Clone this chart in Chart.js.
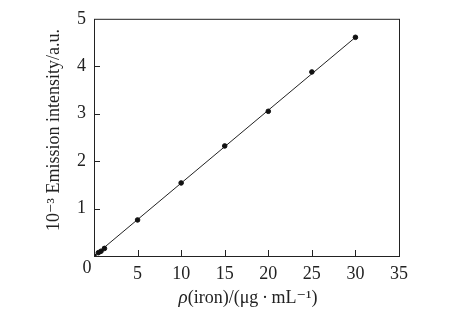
<!DOCTYPE html>
<html lang="en">
<head>
    <meta charset="UTF-8">
    <script src="https://cdn.jsdelivr.net/npm/chart.js@4.4.1/dist/chart.umd.min.js"></script>
    <title>Emission intensity vs iron</title>
    <style>
        html, body {
            margin: 0;
            padding: 0;
            background: #fff;
        }
        #chart-container {
            width: 461px;
            height: 320px;
        }
    </style>
</head>
<body>
    <div id="chart-container">
        <canvas id="ironChart" width="461" height="320"></canvas>
    </div>
    <script>
        // concentration of iron (ug/mL) and emission intensity (x10^3 a.u.)
        const ironConc = [0, 0.5, 0.8, 1.2, 5, 10, 15, 20, 25, 30];
        const emission = [0, 0.07, 0.1, 0.16, 0.76, 1.54, 2.32, 3.05, 3.88, 4.61];
        // calibration line ends
        const fitX = [0, 30];
        const fitY = [0, 4.61];
        const xTicks = [0, 5, 10, 15, 20, 25, 30, 35];
        const yTicks = [0, 1, 2, 3, 4, 5];

        const serif = "'Liberation Serif', 'DejaVu Serif', serif";

        // inward ticks, frame, shared "0" and the axis titles
        const frameAndTicks = {
            id: 'frameAndTicks',
            afterDatasetsDraw(chart) {
                const ctx = chart.ctx;
                const area = chart.chartArea;
                const xs = chart.scales.x, ys = chart.scales.y;
                ctx.save();
                ctx.strokeStyle = '#222';
                ctx.lineWidth = 1;
                ctx.strokeRect(area.left + 0.5, area.top + 0.5, area.right - area.left, area.bottom - area.top);
                ctx.beginPath();
                xTicks.slice(1, -1).forEach(v => {
                    const px = Math.round(xs.getPixelForValue(v)) + 0.5;
                    ctx.moveTo(px, area.bottom);
                    ctx.lineTo(px, area.bottom - 6);
                });
                yTicks.slice(1, -1).forEach(v => {
                    const py = Math.round(ys.getPixelForValue(v)) + 0.5;
                    ctx.moveTo(area.left, py);
                    ctx.lineTo(area.left + 6, py);
                });
                ctx.stroke();

                ctx.fillStyle = '#222';
                ctx.textBaseline = 'middle';
                ctx.textAlign = 'center';
                ctx.font = '18px ' + serif;
                ctx.fillText('0', area.left - 7, area.bottom + 12);

                // x axis title
                ctx.textAlign = 'left';
                const parts = [
                    { t: 'ρ', f: 'italic 19px ' + serif },
                    { t: '(iron)/(μg\u2009·\u2009mL⁻¹)', f: '18px ' + serif }
                ];
                let total = 0;
                parts.forEach(p => { ctx.font = p.f; p.w = ctx.measureText(p.t).width; total += p.w; });
                let x = 248 - total / 2;
                parts.forEach(p => { ctx.font = p.f; ctx.fillText(p.t, x, 298); x += p.w; });

                // y axis title
                ctx.translate(54, 130);
                ctx.rotate(-Math.PI / 2);
                ctx.textAlign = 'center';
                ctx.font = '18px ' + serif;
                ctx.fillText('10⁻³ Emission intensity/a.u.', 0, 0);
                ctx.restore();
            }
        };

        new Chart(document.getElementById('ironChart'), {
            type: 'scatter',
            data: {
                datasets: [
                    {
                        label: 'Measured',
                        data: ironConc.map((c, i) => ({ x: c, y: emission[i] })),
                        backgroundColor: '#111',
                        borderColor: '#111',
                        pointRadius: 2.3,
                        pointHoverRadius: 2.3,
                        showLine: false
                    },
                    {
                        label: 'Fit',
                        data: fitX.map((c, i) => ({ x: c, y: fitY[i] })),
                        borderColor: '#222',
                        borderWidth: 1,
                        pointRadius: 0,
                        showLine: true,
                        fill: false
                    }
                ]
            },
            options: {
                responsive: false,
                animation: false,
                layout: { padding: { left: 0, top: 17, right: 62, bottom: 0 } },
                plugins: {
                    legend: { display: false },
                    tooltip: { enabled: false }
                },
                scales: {
                    x: {
                        type: 'linear',
                        min: 0,
                        max: 35,
                        afterBuildTicks: s => { s.ticks = xTicks.map(v => ({ value: v })); },
                        afterFit: s => { s.height = 64; },
                        grid: { display: false, drawTicks: false },
                        border: { display: false },
                        ticks: {
                            color: '#222',
                            padding: 7,
                            maxRotation: 0,
                            font: { family: serif, size: 18 },
                            callback: v => v === 0 ? '' : v
                        }
                    },
                    y: {
                        type: 'linear',
                        min: 0,
                        max: 5,
                        afterBuildTicks: s => { s.ticks = yTicks.map(v => ({ value: v })); },
                        afterFit: s => { s.width = 94; },
                        grid: { display: false, drawTicks: false },
                        border: { display: false },
                        ticks: {
                            color: '#222',
                            padding: 8,
                            font: { family: serif, size: 18 },
                            callback: v => v === 0 ? '' : v
                        }
                    }
                }
            },
            plugins: [frameAndTicks]
        });
    </script>
</body>
</html>
